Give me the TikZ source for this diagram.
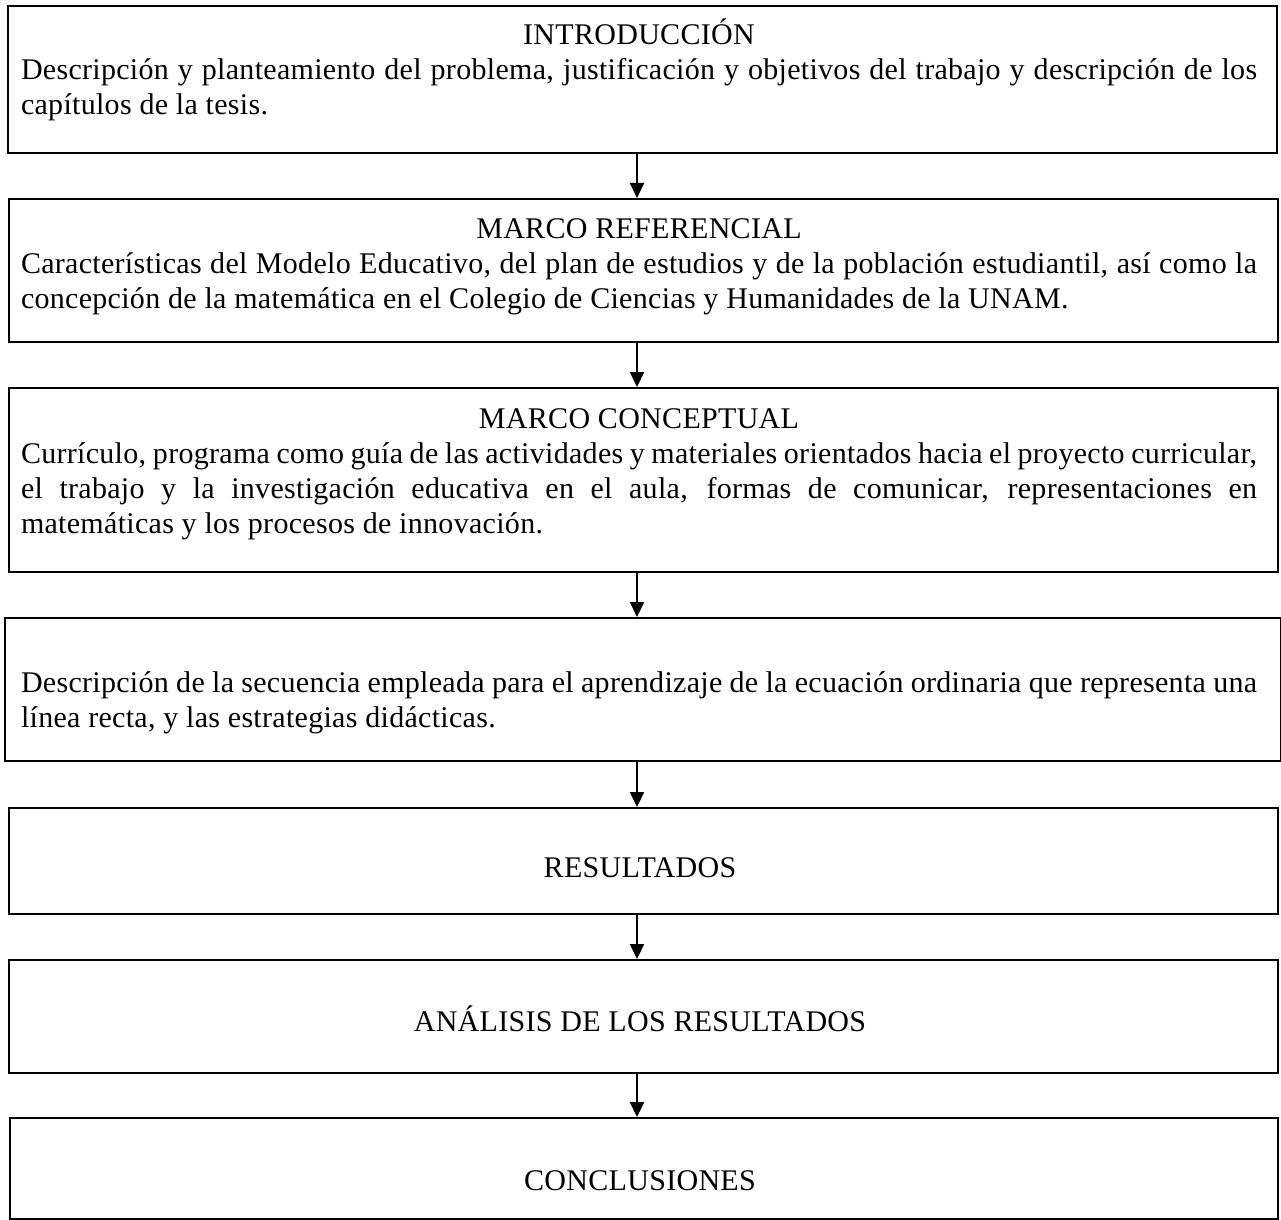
\documentclass[tikz,border=0pt]{standalone}
\usepackage{fontspec}
\setmainfont{Liberation Serif}[LetterSpace=1.0]
\usetikzlibrary{arrows.meta}
\newcommand{\boxtitle}[1]{\hfill\vrule height 16pt width 0pt #1\hfill\null\linebreak}
\begin{document}
\begin{tikzpicture}[x=0.5pt,y=-0.5pt,
  box/.style={draw=black, line width=0.9pt, inner sep=0pt, anchor=north west, minimum width=634.5pt},
  body/.style={inner sep=0pt, text width=618pt, align=justify, anchor=north, font=\fontsize{15}{17.5}\selectfont},
  single/.style={inner sep=0pt, anchor=base, font=\fontsize{15}{17.5}\selectfont},
  arr/.style={line width=1.1pt, -{Triangle[length=7.5pt,width=7pt]}}]
\useasboundingbox (0,0) rectangle (1281,1220);
% boxes
\node[box, minimum height=73.5pt] (b1) at (7,5) {};
\node[box, minimum height=71.5pt] (b2) at (8,198) {};
\node[box, minimum height=92pt] (b3) at (8,387) {};
\node[box, minimum height=71.5pt, minimum width=638pt] (b4) at (4,617) {};
\node[box, minimum height=53pt] (b5) at (8,807) {};
\node[box, minimum height=56.5pt] (b6) at (8,959) {};
\node[box, minimum height=50.5pt, minimum width=634pt] (b7) at (9,1117) {};
% texts
\node[body] (t1) at (639,12) {\boxtitle{INTRODUCCIÓN}Descripción y planteamiento del problema, justificación y objetivos del trabajo y descripción de los\linebreak capítulos de la tesis.};
\node[body] (t2) at (639,206) {\boxtitle{MARCO REFERENCIAL}Características del Modelo Educativo, del plan de estudios y de la población estudiantil, así como la\linebreak concepción de la matemática en el Colegio de Ciencias y Humanidades de la UNAM.};
\node[body] (t3) at (639,396) {\boxtitle{MARCO CONCEPTUAL}Currículo, programa como guía de las actividades y materiales orientados hacia el proyecto curricular,\linebreak el trabajo y la investigación educativa en el aula, formas de comunicar, representaciones en\linebreak matemáticas y los procesos de innovación.};
\node[body] (t4) at (639,660) {\vrule height 16pt width 0pt Descripción de la secuencia empleada para el aprendizaje de la ecuación ordinaria que representa una\linebreak línea recta, y las estrategias didácticas.};
\node[single] (t5) at (640,877) {RESULTADOS};
\node[single] (t6) at (640,1031) {ANÁLISIS DE LOS RESULTADOS};
\node[single] (t7) at (640,1190) {CONCLUSIONES};
% arrows
\coordinate (ax) at (637,0);
\foreach \a/\b in {b1/b2,b2/b3,b3/b4,b4/b5,b5/b6,b6/b7}
  \draw[arr] (\a.south -| ax) -- (\b.north -| ax);
\end{tikzpicture}
\end{document}
